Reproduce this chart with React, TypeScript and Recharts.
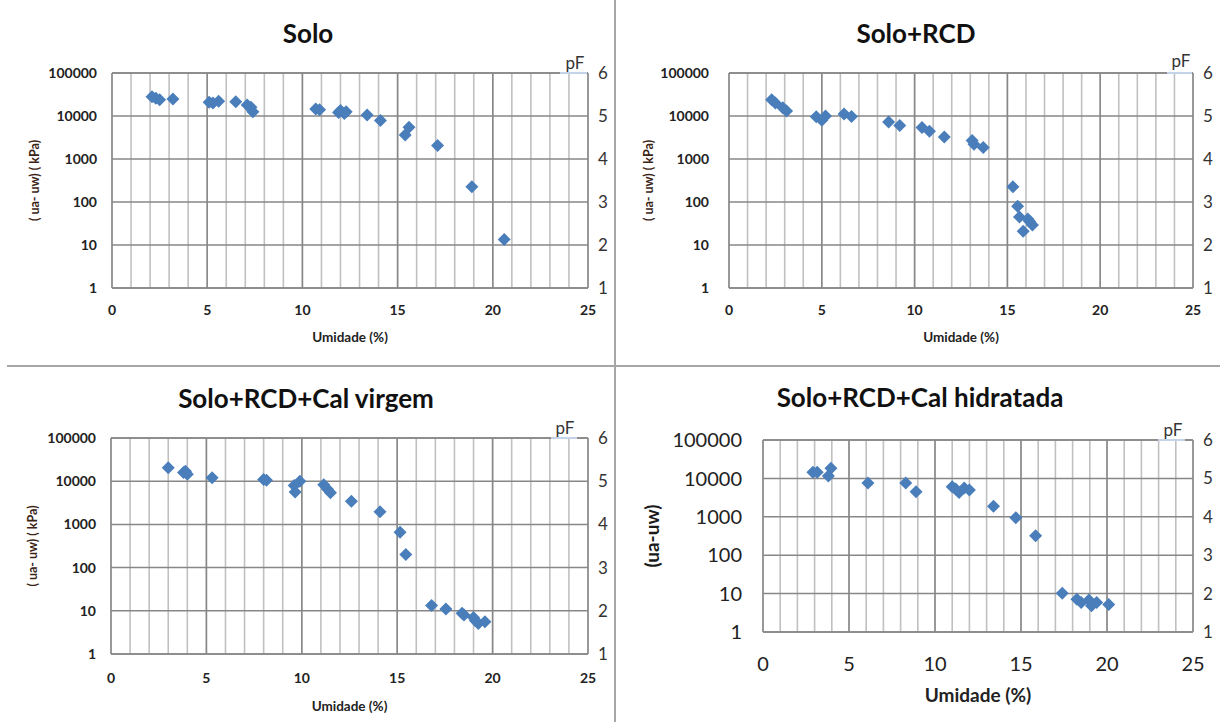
import React from 'react'
import { ScatterChart, Scatter, XAxis, YAxis, CartesianGrid, ReferenceLine } from 'recharts'

// eixo x: umidade (%), eixo y: sucção (ua-uw) em kPa, escala log
const umidadeTicks = [0, 1, 2, 3, 4, 5, 6, 7, 8, 9, 10, 11, 12, 13, 14, 15, 16, 17, 18, 19, 20, 21, 22, 23, 24, 25]
const umidadeMajor = [0, 5, 10, 15, 20, 25]
const succaoTicks = [1, 10, 100, 1000, 10000, 100000]
const pFTicks = [1, 2, 3, 4, 5, 6]

const soloUmidade = [2.1, 2.3, 2.5, 3.2, 5.1, 5.3, 5.6, 6.5, 7.1, 7.3, 7.4, 10.7, 10.9, 11.9, 12.0, 12.2, 12.3, 13.4, 14.1, 15.4, 15.6, 17.1, 18.9, 20.6]
const soloSuccao = [28000, 26000, 24000, 25000, 21000, 20000, 22000, 21500, 18000, 16000, 12500, 14500, 14000, 12000, 13500, 11500, 12500, 10500, 7900, 3600, 5500, 2050, 225, 13.5]

const rcdUmidade = [2.3, 2.5, 2.9, 3.1, 4.7, 5.0, 5.2, 6.2, 6.6, 8.6, 9.2, 10.4, 10.8, 11.6, 13.1, 13.2, 13.7, 15.3, 15.55, 15.65, 15.85, 16.1, 16.2, 16.35]
const rcdSuccao = [24000, 20000, 15500, 13000, 9600, 8000, 10000, 11200, 9800, 7300, 6000, 5400, 4400, 3250, 2700, 2200, 1850, 225, 80, 45, 21, 40, 35, 29]

const virgemUmidade = [3.0, 3.8, 3.9, 4.0, 5.3, 8.0, 8.15, 9.6, 9.65, 9.9, 11.15, 11.35, 11.5, 12.6, 14.1, 15.15, 15.45, 16.8, 17.55, 18.4, 18.5, 19.0, 19.1, 19.25, 19.6]
const virgemSuccao = [20500, 15800, 17000, 14400, 12000, 11000, 10500, 7900, 5600, 10000, 8300, 6500, 5400, 3450, 1950, 660, 200, 13.2, 11, 8.8, 8, 7, 5.9, 5.1, 5.6]

const hidratadaUmidade = [2.9, 3.15, 3.8, 3.95, 6.1, 8.3, 8.9, 11.0, 11.2, 11.4, 11.7, 12.0, 13.4, 14.7, 15.85, 17.4, 18.25, 18.5, 18.95, 19.1, 19.4, 20.1]
const hidratadaSuccao = [14500, 14500, 11500, 18500, 7600, 7600, 4500, 6100, 5300, 4300, 5600, 5000, 1870, 950, 320, 10.2, 7.1, 5.9, 6.8, 4.8, 5.9, 5.2]

const FONT = 'Lato, "Open Sans", sans-serif'
const BLUE = '#4a7ebb'
const GRID_LIGHT = '#c0c0c0'
const GRID_DARK = '#878787'

const Diamond = (props: any) => {
  const { cx, cy } = props
  if (cx == null || cy == null) return null
  const r = 6.5
  return <path d={`M${cx},${cy - r}L${cx + r},${cy}L${cx},${cy + r}L${cx - r},${cy}Z`} fill={BLUE} />
}

interface PanelProps {
  title: string
  xs: number[]
  ys: number[]
  box: { left: number; top: number; width: number; height: number }
  margin: { top: number; right: number; bottom: number; left: number }
  yWidth: number
  xHeight: number
  tickFont: number
  tickWeight: number
  xTickGap: number
  yTickGap: number
  yLabel: string
  yLabelFont: number
  yLabelColor: string
  yLabelOffset: number
  xLabelFont: number
  titlePos: [number, number]
  pFPos: [number, number]
  pFLine: [number, number, number]
}

const Panel: React.FC<PanelProps> = (p) => {
  const data = p.xs.map((x, i) => ({ x, y: p.ys[i] }))
  const tick = { fill: '#222', fontSize: p.tickFont, fontWeight: p.tickWeight, fontFamily: FONT }
  return (
    <>
      <div style={{ position: 'absolute', left: p.box.left, top: p.box.top }}>
        <ScatterChart width={p.box.width} height={p.box.height} margin={p.margin}>
          <CartesianGrid horizontal={false} stroke={GRID_LIGHT} strokeWidth={1.6} />
          <CartesianGrid vertical={false} stroke={GRID_DARK} strokeWidth={1.5} />
          {umidadeMajor.map((v) => (
            <ReferenceLine key={'x' + v} x={v} stroke={GRID_DARK} strokeWidth={1.5} />
          ))}
          <ReferenceLine y={1} stroke={GRID_DARK} strokeWidth={1.5} />
          <ReferenceLine y={100000} stroke={GRID_DARK} strokeWidth={1.5} />
          <XAxis
            type="number"
            dataKey="x"
            domain={[0, 25]}
            ticks={umidadeTicks}
            interval={0}
            allowDataOverflow
            tickFormatter={(v: number) => (umidadeMajor.includes(v) ? String(v) : '')}
            axisLine={false}
            tickLine={false}
            tickSize={0}
            tickMargin={p.xTickGap}
            height={p.xHeight}
            tick={tick}
            label={{
              value: 'Umidade (%)',
              position: 'insideBottom',
              offset: 5,
              style: { fill: '#222', fontSize: p.xLabelFont, fontWeight: 700, fontFamily: FONT },
            }}
          />
          <YAxis
            type="number"
            dataKey="y"
            scale="log"
            domain={[1, 100000]}
            ticks={succaoTicks}
            interval={0}
            allowDataOverflow
            axisLine={false}
            tickLine={false}
            tickSize={0}
            tickMargin={p.yTickGap}
            width={p.yWidth}
            tick={tick}
            label={{
              value: p.yLabel,
              angle: -90,
              position: 'insideLeft',
              offset: p.yLabelOffset,
              style: {
                textAnchor: 'middle',
                fill: p.yLabelColor,
                fontSize: p.yLabelFont,
                fontWeight: 700,
                fontFamily: FONT,
              },
            }}
          />
          <YAxis
            yAxisId="pF"
            orientation="right"
            type="number"
            domain={[1, 6]}
            allowDataOverflow
            ticks={pFTicks}
            interval={0}
            axisLine={false}
            tickLine={false}
            tickSize={0}
            tickMargin={10}
            width={27}
            tick={{ fill: '#333', fontSize: 17, fontFamily: FONT }}
          />
          <Scatter data={data} shape={<Diamond />} isAnimationActive={false} />
        </ScatterChart>
      </div>
      <div
        style={{
          position: 'absolute',
          left: p.titlePos[0],
          top: p.titlePos[1],
          transform: 'translate(-50%, -50%)',
          fontFamily: FONT,
          fontWeight: 700,
          fontSize: 26,
          color: '#111',
          whiteSpace: 'nowrap',
        }}
      >
        {p.title}
      </div>
      <div
        style={{
          position: 'absolute',
          left: p.pFPos[0],
          top: p.pFPos[1],
          transform: 'translate(-50%, -50%)',
          fontFamily: FONT,
          fontSize: 17,
          color: '#333',
        }}
      >
        pF
      </div>
      <div
        style={{
          position: 'absolute',
          left: p.pFLine[0],
          top: p.pFLine[2] - 1,
          width: p.pFLine[1] - p.pFLine[0],
          height: 2,
          background: '#c5d3e8',
        }}
      />
    </>
  )
}

const App: React.FC = () => {
  return (
    <div style={{ position: 'absolute', left: 0, top: 0, width: 1220, height: 722, background: '#fff', fontFamily: FONT }}>
      <Panel
        title="Solo"
        xs={soloUmidade}
        ys={soloSuccao}
        box={{ left: 0, top: 0, width: 615, height: 366 }}
        margin={{ top: 73, right: 0, bottom: 19, left: 0 }}
        yWidth={112}
        xHeight={59}
        tickFont={14}
        tickWeight={700}
        xTickGap={17}
        yTickGap={15}
        yLabel="( ua- uw) ( kPa)"
        yLabelFont={12.5}
        yLabelColor="#3b2414"
        yLabelOffset={35}
        xLabelFont={13.5}
        titlePos={[308, 33]}
        pFPos={[575, 62]}
        pFLine={[560, 587, 73]}
      />
      <Panel
        title="Solo+RCD"
        xs={rcdUmidade}
        ys={rcdSuccao}
        box={{ left: 615, top: 0, width: 605, height: 366 }}
        margin={{ top: 73, right: 0, bottom: 19, left: 0 }}
        yWidth={114}
        xHeight={59}
        tickFont={14}
        tickWeight={700}
        xTickGap={17}
        yTickGap={20}
        yLabel="( ua- uw) ( kPa)"
        yLabelFont={12.5}
        yLabelColor="#3b2414"
        yLabelOffset={34}
        xLabelFont={13.5}
        titlePos={[916, 33]}
        pFPos={[1181, 60]}
        pFLine={[1167, 1192, 73]}
      />
      <Panel
        title="Solo+RCD+Cal virgem"
        xs={virgemUmidade}
        ys={virgemSuccao}
        box={{ left: 0, top: 366, width: 615, height: 356 }}
        margin={{ top: 72, right: 0, bottom: 6, left: 0 }}
        yWidth={111}
        xHeight={62}
        tickFont={14}
        tickWeight={700}
        xTickGap={19}
        yTickGap={15}
        yLabel="( ua- uw) ( kPa)"
        yLabelFont={12.5}
        yLabelColor="#3b2414"
        yLabelOffset={33}
        xLabelFont={13.5}
        titlePos={[306, 398]}
        pFPos={[565, 427]}
        pFLine={[551, 577, 438]}
      />
      <Panel
        title="Solo+RCD+Cal hidratada"
        xs={hidratadaUmidade}
        ys={hidratadaSuccao}
        box={{ left: 615, top: 366, width: 605, height: 356 }}
        margin={{ top: 74, right: 0, bottom: 15, left: 0 }}
        yWidth={148}
        xHeight={75}
        tickFont={20}
        tickWeight={400}
        xTickGap={25}
        yTickGap={21}
        yLabel="(ua-uw)"
        yLabelFont={19}
        yLabelColor="#1a1a1a"
        yLabelOffset={37}
        xLabelFont={19}
        titlePos={[920, 397]}
        pFPos={[1173, 429]}
        pFLine={[1158, 1185, 440]}
      />
      <div style={{ position: 'absolute', left: 614, top: 0, width: 2, height: 722, background: '#a6a6a6' }} />
      <div style={{ position: 'absolute', left: 7, top: 365, width: 1213, height: 2, background: '#a6a6a6' }} />
    </div>
  )
}

export default App
